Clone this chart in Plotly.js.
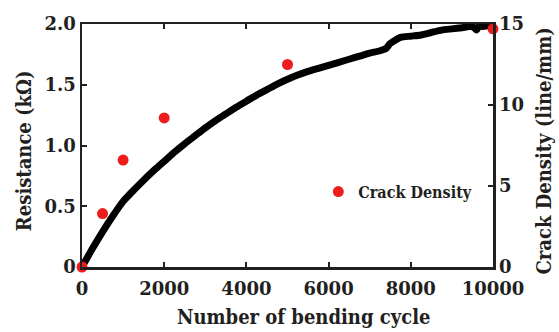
<!DOCTYPE html>
<html><head><meta charset="utf-8">
<script src="https://cdn.plot.ly/plotly-3.0.1.min.js"></script>
<style>html,body{margin:0;padding:0;background:#fff}#chart{width:559px;height:332px}</style>
</head><body><div id="chart"></div>
<script>
const cycles = [0,250,500,750,1000,1250,1500,1750,2000,2250,2500,2750,3000,3250,3500,3750,4000,4250,4500,4750,5000,5250,5500,5750,6000,6250,6500,6750,7000,7250,7400,7500,7750,8000,8250,8500,8750,9000,9250,9500,9600,9650,9750,10000];
const resistance = [0,0.15,0.29,0.42,0.54,0.63,0.715,0.795,0.87,0.945,1.015,1.08,1.145,1.205,1.26,1.315,1.365,1.415,1.46,1.505,1.545,1.58,1.61,1.635,1.66,1.685,1.71,1.735,1.76,1.78,1.80,1.84,1.89,1.90,1.91,1.93,1.95,1.96,1.97,1.98,1.95,1.98,1.98,1.99];
const crackCycles = [0,500,1000,2000,5000,10000];
const crackDensity = [0,3.3,6.6,9.2,12.5,14.7];
const xTicks = [0,2000,4000,6000,8000,10000];
const yTicks = [0,0.5,1.0,1.5,2.0];
const yTickText = ['0','0.5','1.0','1.5','2.0'];
const y2Ticks = [0,5,10,15];
const xTitle = 'Number of bending cycle';
const yTitle = 'Resistance (kΩ)';
const y2Title = 'Crack Density (line/mm)';
const seriesName = 'Crack Density';

const F = 'DejaVu Serif';
const FT = 'DejaVu Serif Condensed, DejaVu Serif';
const axCol = '#231f20';
const txt = '#231f20';
const b = s => '<b>' + s + '</b>';
const tf = {family: F, size: 18, color: txt};
const titf = {family: FT, size: 20, color: txt};
const traces = [
  {x: cycles, y: resistance, mode: 'lines', line: {color: '#000', width: 7, shape: 'spline', smoothing: 0.6}, showlegend: false, yaxis: 'y'},
  {x: crackCycles, y: crackDensity, mode: 'markers', name: b(seriesName),
   marker: {color: '#ee1c1c', size: 11}, yaxis: 'y2', cliponaxis: false}
];
const layout = {
  width: 559, height: 332,
  margin: {l: 82, r: 66, t: 24, b: 65},
  paper_bgcolor: '#fff', plot_bgcolor: '#fff',
  font: {family: F, color: txt, size: 17},
  showlegend: true,
  legend: {x: 0.575, y: 0.31, xanchor: 'left', yanchor: 'middle', bgcolor: 'rgba(0,0,0,0)',
    font: {family: FT, size: 16, color: txt}, itemwidth: 20},
  xaxis: {range: [0, 10000], tickvals: xTicks, ticktext: xTicks.map(v => b(String(v))), ticks: 'inside', ticklen: 5,
    tickwidth: 2, tickcolor: axCol, showline: true, linewidth: 2.5, linecolor: axCol, mirror: 'ticks',
    showgrid: false, zeroline: false, ticklabelstandoff: 4, tickfont: tf},
  yaxis: {range: [0, 2.0], tickvals: yTicks, ticktext: yTickText.map(b), ticks: 'inside', ticklen: 5,
    tickwidth: 2, tickcolor: axCol, showline: true, linewidth: 2.5, linecolor: axCol, mirror: true,
    showgrid: false, zeroline: false, tickfont: tf},
  yaxis2: {range: [0, 15], tickvals: y2Ticks, ticktext: y2Ticks.map(v => b(String(v))), ticks: 'inside', ticklen: 5, tickwidth: 2, tickcolor: axCol,
    overlaying: 'y', side: 'right', showline: true, linewidth: 2.5, linecolor: axCol,
    showgrid: false, zeroline: false, tickfont: tf},
  annotations: [
    {text: b(xTitle), xref: 'paper', yref: 'paper', x: 0.538, y: -0.206, xanchor: 'center', yanchor: 'middle', showarrow: false, font: titf},
    {text: b(yTitle), xref: 'paper', yref: 'paper', x: -0.141, y: 0.477, xanchor: 'center', yanchor: 'middle', textangle: -90, showarrow: false, font: titf},
    {text: b(y2Title), xref: 'paper', yref: 'paper', x: 1.125, y: 0.477, xanchor: 'center', yanchor: 'middle', textangle: -90, showarrow: false, font: titf, borderpad: 0}
  ]
};
Plotly.newPlot('chart', traces, layout, {staticPlot: true, displayModeBar: false});
</script></body></html>
